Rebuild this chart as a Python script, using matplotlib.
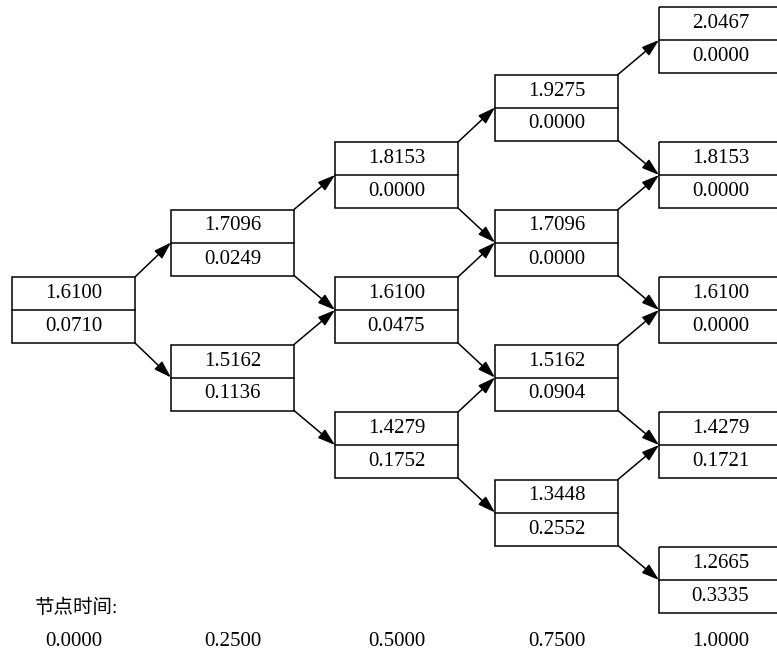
import matplotlib.pyplot as plt
from matplotlib.patches import Rectangle

plt.rcParams['font.family'] = ['Liberation Serif', 'Noto Sans CJK SC']

# stock price and option value at each node, top node first
prices = [
    [1.6100],
    [1.7096, 1.5162],
    [1.8153, 1.6100, 1.4279],
    [1.9275, 1.7096, 1.5162, 1.3448],
    [2.0467, 1.8153, 1.6100, 1.4279, 1.2665],
]
values = [
    [0.0710],
    [0.0249, 0.1136],
    [0.0000, 0.0475, 0.1752],
    [0.0000, 0.0000, 0.0904, 0.2552],
    [0.0000, 0.0000, 0.0000, 0.1721, 0.3335],
]
times = [0.0, 0.25, 0.5, 0.75, 1.0]
time_label = "节点时间:"

# layout in pixels
col_x = [12, 171, 335, 495, 659]
box_w = 123
half_h = 33
y0 = 310
dy = 67.5
fs = 15

fig = plt.figure(figsize=(7.77, 6.58), dpi=100)
ax = fig.add_axes([0, 0, 1, 1])
ax.set_xlim(0, 777)
ax.set_ylim(658, 0)
ax.axis('off')


def node_y(i, j):
    return y0 - dy * (i - 2 * j)


last = len(prices) - 1
arrow_style = '-|>,head_length=0.75,head_width=0.24'

for i in range(len(prices)):
    # the last column runs off the right edge of the page
    w = box_w if i < last else box_w + 40
    for j in range(len(prices[i])):
        x = col_x[i]
        ym = node_y(i, j)
        ax.add_patch(Rectangle((x, ym - half_h), w, 2 * half_h,
                               fill=False, ec='black', lw=1.1))
        ax.plot([x, x + w], [ym, ym], color='black', lw=1.1)
        ax.text(x + box_w / 2, ym - half_h / 2, f"{prices[i][j]:.4f}",
                ha='center', va='center', fontsize=fs)
        ax.text(x + box_w / 2, ym + half_h / 2, f"{values[i][j]:.4f}",
                ha='center', va='center', fontsize=fs)
        if i < last:
            xr = x + box_w
            # up move
            ax.annotate('', xy=(col_x[i + 1], node_y(i + 1, j)),
                        xytext=(xr, ym - half_h),
                        arrowprops=dict(arrowstyle=arrow_style, color='black', lw=1.1,
                                        shrinkA=0, shrinkB=0, mutation_scale=14))
            # down move
            ax.annotate('', xy=(col_x[i + 1], node_y(i + 1, j + 1)),
                        xytext=(xr, ym + half_h),
                        arrowprops=dict(arrowstyle=arrow_style, color='black', lw=1.1,
                                        shrinkA=0, shrinkB=0, mutation_scale=14))

ax.text(35, 608, time_label, ha='left', va='center', fontsize=14)
for i, t in enumerate(times):
    ax.text(col_x[i] + box_w / 2, 642, f"{t:.4f}", ha='center', va='center', fontsize=fs)

fig.savefig('out.png', dpi=100)
